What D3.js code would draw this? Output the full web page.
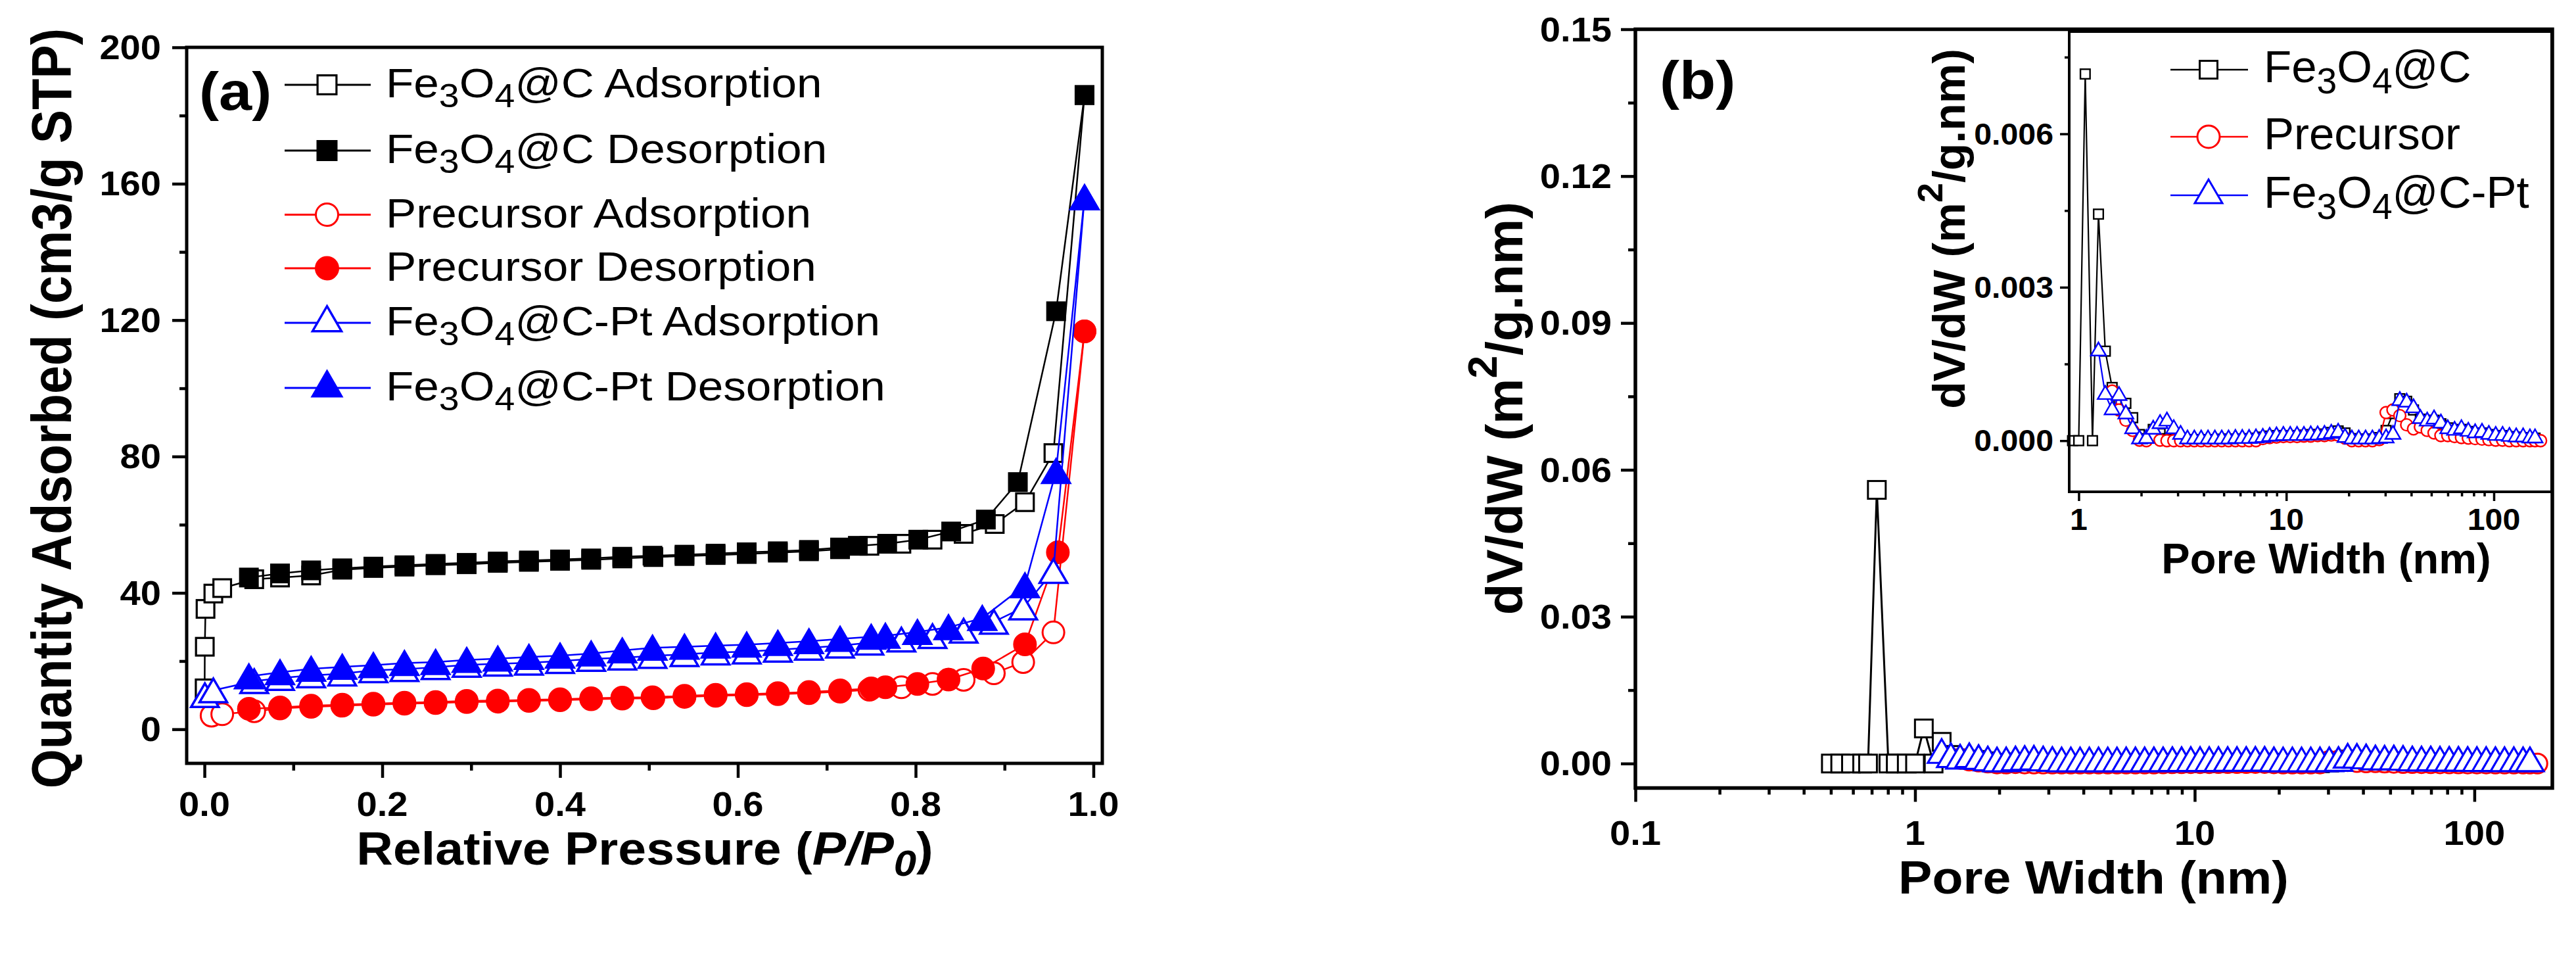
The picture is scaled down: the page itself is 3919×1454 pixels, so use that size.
<!DOCTYPE html>
<html>
<head>
<meta charset="utf-8">
<script src="https://cdn.jsdelivr.net/npm/d3@7"></script>
<style>
  body { margin: 0; background: #fff; }
  svg { display: block; }
  text { font-family: "Liberation Sans", Arial, sans-serif; }
</style>
</head>
<body>
<svg id="chart" width="3919" height="1454"></svg>
<script>
// ---------- (a) N2 isotherms: relative pressure / quantity adsorbed ----------
var carbonAdsP = [0.0002, 0.0004, 0.0012, 0.010, 0.020, 0.056, 0.085, 0.12, 0.155, 0.19, 0.225, 0.26, 0.295, 0.33, 0.365, 0.40, 0.435, 0.47, 0.505, 0.54, 0.575, 0.61, 0.645, 0.68, 0.715, 0.748, 0.784, 0.819, 0.854, 0.889, 0.923, 0.955, 0.990];
var carbonAdsQ = [12.0, 24.2, 35.3, 39.8, 41.4, 44.0, 44.5, 45.1, 46.8, 47.3, 47.7, 48.1, 48.4, 48.8, 49.1, 49.4, 49.7, 50.1, 50.5, 50.8, 51.1, 51.4, 51.8, 52.2, 52.8, 53.8, 54.4, 55.6, 57.3, 60.2, 66.6, 81.0, 186.0];
var carbonDesP = [0.990, 0.958, 0.915, 0.879, 0.840, 0.803, 0.768, 0.735, 0.715, 0.68, 0.645, 0.61, 0.575, 0.54, 0.504, 0.47, 0.435, 0.40, 0.365, 0.33, 0.295, 0.26, 0.225, 0.19, 0.155, 0.12, 0.085, 0.05];
var carbonDesQ = [186.0, 122.6, 72.5, 61.5, 58.0, 55.6, 54.4, 53.8, 53.3, 52.6, 52.2, 51.9, 51.5, 51.2, 50.9, 50.6, 50.1, 49.8, 49.5, 49.2, 48.8, 48.5, 48.1, 47.7, 47.2, 46.6, 45.7, 44.5];

var precAdsP = [0.008, 0.020, 0.056, 0.085, 0.12, 0.155, 0.19, 0.225, 0.26, 0.295, 0.33, 0.365, 0.40, 0.435, 0.47, 0.505, 0.54, 0.575, 0.61, 0.645, 0.68, 0.715, 0.748, 0.784, 0.819, 0.854, 0.888, 0.921, 0.955, 0.990];
var precAdsQ = [4.0, 4.4, 5.3, 6.1, 6.6, 6.9, 7.2, 7.5, 7.7, 8.0, 8.1, 8.3, 8.5, 8.8, 9.0, 9.1, 9.5, 9.8, 10.0, 10.3, 10.6, 11.0, 11.6, 12.3, 13.3, 14.5, 16.4, 19.7, 28.4, 116.7];
var precDesP = [0.990, 0.960, 0.923, 0.876, 0.837, 0.802, 0.766, 0.750, 0.715, 0.68, 0.645, 0.61, 0.575, 0.54, 0.504, 0.47, 0.435, 0.40, 0.365, 0.33, 0.295, 0.26, 0.225, 0.19, 0.155, 0.12, 0.085, 0.05];
var precDesQ = [116.7, 51.9, 24.9, 17.8, 14.6, 13.3, 12.3, 12.0, 11.4, 10.9, 10.6, 10.3, 10.1, 9.8, 9.4, 9.3, 9.1, 8.8, 8.6, 8.4, 8.3, 8.0, 7.8, 7.5, 7.2, 6.9, 6.4, 6.0];

var ptAdsP = [0.0005, 0.010, 0.056, 0.085, 0.12, 0.155, 0.19, 0.225, 0.26, 0.295, 0.33, 0.365, 0.40, 0.435, 0.47, 0.504, 0.54, 0.575, 0.61, 0.645, 0.68, 0.715, 0.748, 0.784, 0.819, 0.854, 0.888, 0.921, 0.955, 0.990];
var ptAdsQ = [10.0, 11.4, 14.1, 15.0, 15.8, 16.3, 17.3, 17.6, 18.2, 18.9, 19.2, 19.5, 20.0, 20.6, 21.0, 21.5, 22.0, 22.5, 22.8, 23.3, 23.9, 24.5, 25.4, 26.3, 27.3, 28.9, 31.5, 35.7, 46.4, 156.0];
var ptDesP = [0.990, 0.958, 0.923, 0.875, 0.837, 0.802, 0.766, 0.750, 0.715, 0.68, 0.645, 0.61, 0.575, 0.54, 0.504, 0.47, 0.435, 0.40, 0.365, 0.33, 0.295, 0.26, 0.225, 0.19, 0.155, 0.12, 0.085, 0.05];
var ptDesQ = [156.0, 75.7, 42.2, 32.6, 29.9, 28.5, 27.4, 27.1, 26.5, 25.8, 25.3, 24.8, 24.5, 24.2, 23.9, 23.1, 22.2, 21.6, 21.2, 20.7, 20.3, 19.7, 19.4, 18.8, 18.3, 17.7, 16.7, 15.5];

var aXTicks = [0, 0.2, 0.4, 0.6, 0.8, 1.0];
var aXMinor = [0.1, 0.3, 0.5, 0.7, 0.9];
var aYTicks = [0, 40, 80, 120, 160, 200];
var aYMinor = [20, 60, 100, 140, 180];

// ---------- (b) pore size distribution: pore width (nm) / dV/dW ----------
var microWidth = [0.50, 0.54, 0.59, 0.647, 0.679, 0.73, 0.803, 0.853, 0.934, 1.0, 1.075, 1.165];
var carbonMicro = [0, 0, 0, 0, 0, 0.0559, 0, 0, 0, 0, 0.00717, 0];

var poreWidth = [1.245, 1.343, 1.449, 1.563, 1.687, 1.82, 1.963, 2.118, 2.286, 2.466, 2.661, 2.871, 3.097, 3.342, 3.606, 3.89,
  4.198, 4.529, 4.887, 5.272, 5.689, 6.138, 6.622, 7.145, 7.709, 8.318, 8.974, 9.683, 10.45, 11.27, 12.16, 13.12, 14.16,
  15.28, 16.48, 17.78, 19.19, 20.7, 22.34, 24.1, 26.0, 28.05, 30.27, 32.66, 35.24, 38.02, 41.02, 44.26, 47.75, 51.52,
  55.59, 59.98, 64.71, 69.82, 75.34, 81.28, 87.7, 94.62, 102.1, 110.2, 118.9, 128.2, 138.4, 149.3, 158, 168];

var carbonDV = [0.00443, 0.00175, 0.00104, 0.00078, 0.00073, 0.00045, 0.00012, 0.00004, 0.00022, 0.00014, 0.00004, 0.00002,
  0.00002, 0.00002, 0.00002, 0.00002, 0.00002, 0.00002, 0.00003, 0.00003, 0.00003, 0.00003, 0.00004, 0.00005,
  0.00007, 0.00009, 0.0001, 0.0001, 0.0001, 0.0001, 0.00011, 0.00012, 0.00012, 0.00013, 0.00016, 0.00019,
  0.00015, 0.00004, 0.00003, 0.00003, 0.00003, 0.00006, 0.0002, 0.00053, 0.00082, 0.00077, 0.0006, 0.00042,
  0.00037, 0.0004, 0.00033, 0.00025, 0.0002, 0.00022, 0.00018, 0.00015, 0.00015, 0.00012, 0.0001, 0.0001,
  0.00008, 0.00007, 0.00006, 0.00005, 0.00005, null];

var precursorDV = [null, null, 0.00097, 0.0006, 0.0004, 0.0002, 0.00001, 0, 0.00008, 0.00001, 0, 0,
  0, 0, 0, 0, 0, 0, 0, 0, 0, 0, 0, 0,
  0.00004, 0.00006, 0.00007, 0.00008, 0.00008, 0.00008, 0.00009, 0.00009, 0.0001, 0.0001, 0.00011, 0.00011,
  0.00005, 0, 0, 0, 0, 0.00002, 0.00055, 0.0006, 0.00049, 0.00031, 0.00023, 0.00027,
  0.0002, 0.00015, 0.0001, 0.0001, 0.00008, 0.00006, 0.00005, 0.00004, 0.00003, 0.00002, 0.00001, 0.00001,
  0, 0, 0, 0, 0, 0];

var ptDV = [0.00175, 0.0009, 0.0006, 0.00088, 0.00052, 0.00023, 0.00003, 0.00004, 0.00022, 0.00033, 0.00038, 0.00023,
  0.00012, 0.00003, 0.00003, 0.00003, 0.00003, 0.00003, 0.00003, 0.00003, 0.00004, 0.00004, 0.00004, 0.00005,
  0.00006, 0.00008, 0.00009, 0.0001, 0.0001, 0.0001, 0.0001, 0.00011, 0.00011, 0.00012, 0.00014, 0.00016,
  0.00006, 0.00003, 0.00003, 0.00003, 0.00003, 0.00004, 0.00005, 0.00012, 0.00078, 0.00075, 0.00064, 0.00043,
  0.00038, 0.00042, 0.00034, 0.00023, 0.0002, 0.00023, 0.00018, 0.00015, 0.00016, 0.00012, 0.0001, 0.0001,
  0.00008, 0.00007, 0.00007, 0.00005, 0.00005, null];

var bXTicks = [0.1, 1, 10, 100];
var bXMinor = [0.2, 0.3, 0.4, 0.5, 0.6, 0.7, 0.8, 0.9, 2, 3, 4, 5, 6, 7, 8, 9, 20, 30, 40, 50, 60, 70, 80, 90];
var bYTicks = [0, 0.03, 0.06, 0.09, 0.12, 0.15];
var bYMinor = [0.015, 0.045, 0.075, 0.105, 0.135];
var iXTicks = [1, 10, 100];
var iXMinor = [2, 3, 4, 5, 6, 7, 8, 9, 20, 30, 40, 50, 60, 70, 80, 90];
var iYTicks = [0, 0.003, 0.006];
var iYMinor = [0.0015, 0.0045, 0.0075];

var BLACK = '#000000', RED = '#ff0000', BLUE = '#0000ff';

var svg = d3.select('#chart');
svg.append('rect').attr('width', 3919).attr('height', 1454).attr('fill', '#fff');

// text with sub/superscript parts, optional stretch
function txt(g, x, y, parts, size, o) {
  o = o || {};
  var t = g.append('text')
    .attr('transform', 'translate(' + x + ',' + y + ')' + (o.rot ? ' rotate(' + o.rot + ')' : '') +
      ' scale(' + (o.sx || 1) + ',' + (o.sy || 1) + ')')
    .attr('text-anchor', o.anchor || 'start')
    .attr('font-size', size)
    .attr('font-weight', o.weight || 'normal')
    .attr('fill', '#000');
  var shift = 0;
  parts.forEach(function(p) {
    var s = p[0], k = p[1] || '';
    var target = 0, fs = size;
    if (k.indexOf('sub') >= 0) { target = size * 0.24; fs = size * 0.8; }
    if (k.indexOf('sup') >= 0) { target = -size * 0.5; fs = size * 0.8; }
    var ts = t.append('tspan').text(s).attr('font-size', fs);
    if (target !== shift) ts.attr('dy', target - shift);
    if (k.charAt(0) === 'i') ts.attr('font-style', 'italic');
    shift = target;
  });
  return t;
}

function marker(g, x, y, st) {
  var fill = st.filled ? st.color : '#fff';
  if (st.shape === 'square') {
    var s = st.size - st.msw;
    g.append('rect').attr('x', x - s / 2).attr('y', y - s / 2).attr('width', s).attr('height', s)
      .attr('fill', fill).attr('stroke', st.color).attr('stroke-width', st.msw);
  } else if (st.shape === 'circle') {
    g.append('circle').attr('cx', x).attr('cy', y).attr('r', st.r)
      .attr('fill', fill).attr('stroke', st.color).attr('stroke-width', st.msw);
  } else {
    var w = st.tw / 2, h = st.th;
    var top = st.centroid ? y - h * 2 / 3 : y - h / 2;
    g.append('path')
      .attr('d', 'M' + x + ',' + top + 'L' + (x + w) + ',' + (top + h) + 'L' + (x - w) + ',' + (top + h) + 'Z')
      .attr('fill', fill).attr('stroke', st.color).attr('stroke-width', st.msw).attr('stroke-linejoin', 'miter');
  }
}

function drawSeries(g, xs, ys, sx, sy, st) {
  var pts = xs.map(function(x, i) { return [x, ys[i]]; }).filter(function(d) { return d[1] != null; });
  g.append('path').datum(pts)
    .attr('d', d3.line().x(function(d) { return sx(d[0]); }).y(function(d) { return sy(d[1]); }))
    .attr('fill', 'none').attr('stroke', st.color).attr('stroke-width', st.lw);
  pts.forEach(function(d) { marker(g, sx(d[0]), sy(d[1]), st); });
}

function ticks(g, axis, tr, sw) {
  var a = g.append('g').attr('transform', tr).call(axis);
  a.select('.domain').remove();
  a.selectAll('line').attr('stroke', '#000').attr('stroke-width', sw);
  a.selectAll('text').remove();
}

function frame(g, l, t, r, b, sw) {
  g.append('rect').attr('x', l).attr('y', t).attr('width', r - l).attr('height', b - t)
    .attr('fill', 'none').attr('stroke', '#000').attr('stroke-width', sw);
}

function feParts(rest) {
  return [['Fe'], ['3', 'sub'], ['O'], ['4', 'sub'], ['@C' + rest]];
}

// ================= panel (a) =================
var gA = svg.append('g');
var xA = d3.scaleLinear().domain([-0.02, 1.01]).range([284, 1677]);
var yA = d3.scaleLinear().domain([-10, 200]).range([1161, 72]);

ticks(gA, d3.axisBottom(xA).tickValues(aXTicks).tickSize(22).tickFormat(''), 'translate(0,1161)', 4.5);
ticks(gA, d3.axisBottom(xA).tickValues(aXMinor).tickSize(11).tickFormat(''), 'translate(0,1161)', 4.5);
ticks(gA, d3.axisLeft(yA).tickValues(aYTicks).tickSize(22).tickFormat(''), 'translate(284,0)', 4.5);
ticks(gA, d3.axisLeft(yA).tickValues(aYMinor).tickSize(11).tickFormat(''), 'translate(284,0)', 4.5);

var stA = {
  sq: { shape: 'square', size: 30, msw: 3.2, lw: 2.5, color: BLACK },
  ci: { shape: 'circle', r: 16.5, msw: 3, lw: 2.5, color: RED },
  tr: { shape: 'tri', tw: 42, th: 36, msw: 3.5, lw: 2.5, color: BLUE, centroid: false }
};
function withFill(st, f) { var o = Object.assign({}, st); o.filled = f; return o; }

var gAd = gA.append('g');
drawSeries(gAd, carbonAdsP, carbonAdsQ, xA, yA, withFill(stA.sq, false));
drawSeries(gAd, carbonDesP, carbonDesQ, xA, yA, withFill(stA.sq, true));
drawSeries(gAd, precAdsP, precAdsQ, xA, yA, withFill(stA.ci, false));
drawSeries(gAd, precDesP, precDesQ, xA, yA, withFill(stA.ci, true));
drawSeries(gAd, ptAdsP, ptAdsQ, xA, yA, withFill(stA.tr, false));
drawSeries(gAd, ptDesP, ptDesQ, xA, yA, withFill(stA.tr, true));

frame(gA, 284, 72, 1677, 1161, 5);

aXTicks.forEach(function(v) {
  txt(gA, xA(v), 1241, [[d3.format('.1f')(v)]], 51, { anchor: 'middle', weight: 'bold', sx: 1.1 });
});
aYTicks.forEach(function(v) {
  txt(gA, 245, yA(v) + 18, [[String(v)]], 51, { anchor: 'end', weight: 'bold', sx: 1.1 });
});

txt(gA, 981, 1315, [['Relative Pressure ('], ['P/P', 'i'], ['0', 'isub'], [')']], 70,
  { anchor: 'middle', weight: 'bold', sx: 1.1 });
txt(gA, 108, 621, [['Quantity Adsorbed (cm3/g STP)']], 77,
  { anchor: 'middle', weight: 'bold', rot: -90, sy: 1.1 });
txt(gA, 303, 167, [['(a)']], 82, { weight: 'bold', sx: 1.1 });

// legend (a)
var legA = [
  { parts: feParts(' Adsorption'), st: withFill(stA.sq, false), base: 148 },
  { parts: feParts(' Desorption'), st: withFill(stA.sq, true), base: 248 },
  { parts: [['Precursor Adsorption']], st: withFill(stA.ci, false), base: 345.5 },
  { parts: [['Precursor Desorption']], st: withFill(stA.ci, true), base: 427 },
  { parts: feParts('-Pt Adsorption'), st: withFill(stA.tr, false), base: 510 },
  { parts: feParts('-Pt Desorption'), st: withFill(stA.tr, true), base: 609 }
];
legA.forEach(function(d) {
  var my = d.base - 19;
  gA.append('line').attr('x1', 433).attr('x2', 564).attr('y1', my).attr('y2', my)
    .attr('stroke', d.st.color).attr('stroke-width', 2.8);
  var ms = Object.assign({}, d.st, { size: 32, r: 17, tw: 44, th: 38, centroid: true });
  marker(gA, 497.5, my, ms);
  txt(gA, 587, d.base, d.parts, 63, { sx: 1.1 });
});

// ================= panel (b) =================
var gB = svg.append('g');
var xB = d3.scaleLog().domain([0.1, 190]).range([2488, 3883]);
var yB = d3.scaleLinear().domain([-0.005, 0.15]).range([1198.5, 44.5]);

ticks(gB, d3.axisBottom(xB).tickValues(bXTicks).tickSize(21).tickFormat(''), 'translate(0,1198.5)', 4.5);
ticks(gB, d3.axisBottom(xB).tickValues(bXMinor).tickSize(10).tickFormat(''), 'translate(0,1198.5)', 4.5);
ticks(gB, d3.axisLeft(yB).tickValues(bYTicks).tickSize(22).tickFormat(''), 'translate(2488,0)', 4.5);
ticks(gB, d3.axisLeft(yB).tickValues(bYMinor).tickSize(11).tickFormat(''), 'translate(2488,0)', 4.5);

var stB = {
  sq: { shape: 'square', size: 30, msw: 3, lw: 3, color: BLACK },
  ci: { shape: 'circle', r: 15, msw: 3, lw: 3, color: RED },
  tr: { shape: 'tri', tw: 42, th: 36, msw: 3.2, lw: 3, color: BLUE, centroid: true }
};
var carbonWidthAll = microWidth.concat(poreWidth);
var carbonAll = carbonMicro.concat(carbonDV);

var gBd = gB.append('g');
drawSeries(gBd, carbonWidthAll, carbonAll, xB, yB, stB.sq);
drawSeries(gBd, poreWidth, precursorDV, xB, yB, stB.ci);
drawSeries(gBd, poreWidth, ptDV, xB, yB, stB.tr);

frame(gB, 2488, 44.5, 3883, 1198.5, 5.5);

bXTicks.forEach(function(v) {
  txt(gB, xB(v), 1285, [[String(v)]], 51, { anchor: 'middle', weight: 'bold', sx: 1.1 });
});
bYTicks.forEach(function(v) {
  txt(gB, 2452, yB(v) + 18, [[d3.format('.2f')(v)]], 51, { anchor: 'end', weight: 'bold', sx: 1.1 });
});
txt(gB, 3185, 1359, [['Pore Width (nm)']], 70, { anchor: 'middle', weight: 'bold', sx: 1.1 });
txt(gB, 2316, 621, [['dV/dW (m'], ['2', 'sup'], ['/g.nm)']], 78, { anchor: 'middle', weight: 'bold', rot: -90 });
txt(gB, 2525, 150, [['(b)']], 82, { weight: 'bold', sx: 1.1 });

// ---------- inset ----------
var gI = svg.append('g');
var xI = d3.scaleLog().domain([0.9, 190]).range([3148, 3882]);
var yI = d3.scaleLinear().domain([-0.001, 0.008]).range([748, 48]);

gI.append('rect').attr('x', 3148).attr('y', 48).attr('width', 3882 - 3148).attr('height', 700).attr('fill', '#fff');
ticks(gI, d3.axisBottom(xI).tickValues(iXTicks).tickSize(14).tickFormat(''), 'translate(0,748)', 3.5);
ticks(gI, d3.axisBottom(xI).tickValues(iXMinor).tickSize(7).tickFormat(''), 'translate(0,748)', 3.5);
ticks(gI, d3.axisLeft(yI).tickValues(iYTicks).tickSize(14).tickFormat(''), 'translate(3148,0)', 3.5);
ticks(gI, d3.axisLeft(yI).tickValues(iYMinor).tickSize(7).tickFormat(''), 'translate(3148,0)', 3.5);

var stI = {
  sq: { shape: 'square', size: 17, msw: 2.4, lw: 2.2, color: BLACK },
  ci: { shape: 'circle', r: 9, msw: 2.4, lw: 2.2, color: RED },
  tr: { shape: 'tri', tw: 23, th: 20, msw: 2.4, lw: 2.2, color: BLUE, centroid: true }
};
var inX = carbonWidthAll.filter(function(w) { return w >= 0.9; });
var inC = carbonAll.filter(function(v, i) { return carbonWidthAll[i] >= 0.9; });
var gId = gI.append('g');
drawSeries(gId, inX, inC, xI, yI, stI.sq);
drawSeries(gId, poreWidth, precursorDV, xI, yI, stI.ci);
drawSeries(gId, poreWidth, ptDV, xI, yI, stI.tr);

frame(gI, 3148, 48, 3882, 748, 4);

iXTicks.forEach(function(v) {
  txt(gI, xI(v), 806, [[String(v)]], 46, { anchor: 'middle', weight: 'bold', sx: 1.05 });
});
iYTicks.forEach(function(v) {
  txt(gI, 3124, yI(v) + 16, [[d3.format('.3f')(v)]], 46, { anchor: 'end', weight: 'bold', sx: 1.05 });
});
txt(gI, 3539, 872, [['Pore Width (nm)']], 65, { anchor: 'middle', weight: 'bold' });
txt(gI, 2989, 348, [['dV/dW (m'], ['2', 'sup'], ['/g.nm)']], 68, { anchor: 'middle', weight: 'bold', rot: -90 });

var legI = [
  { parts: feParts(''), st: stI.sq, base: 125 },
  { parts: [['Precursor']], st: stI.ci, base: 227 },
  { parts: feParts('-Pt'), st: stI.tr, base: 316 }
];
legI.forEach(function(d) {
  var my = d.base - 19;
  gI.append('line').attr('x1', 3302).attr('x2', 3420).attr('y1', my).attr('y2', my)
    .attr('stroke', d.st.color).attr('stroke-width', 2.5);
  var ms = Object.assign({}, d.st, { size: 30, r: 17, tw: 42, th: 36, msw: 3, centroid: true });
  marker(gI, 3360, my, ms);
  txt(gI, 3444, d.base, d.parts, 69, {});
});
</script>
</body>
</html>
